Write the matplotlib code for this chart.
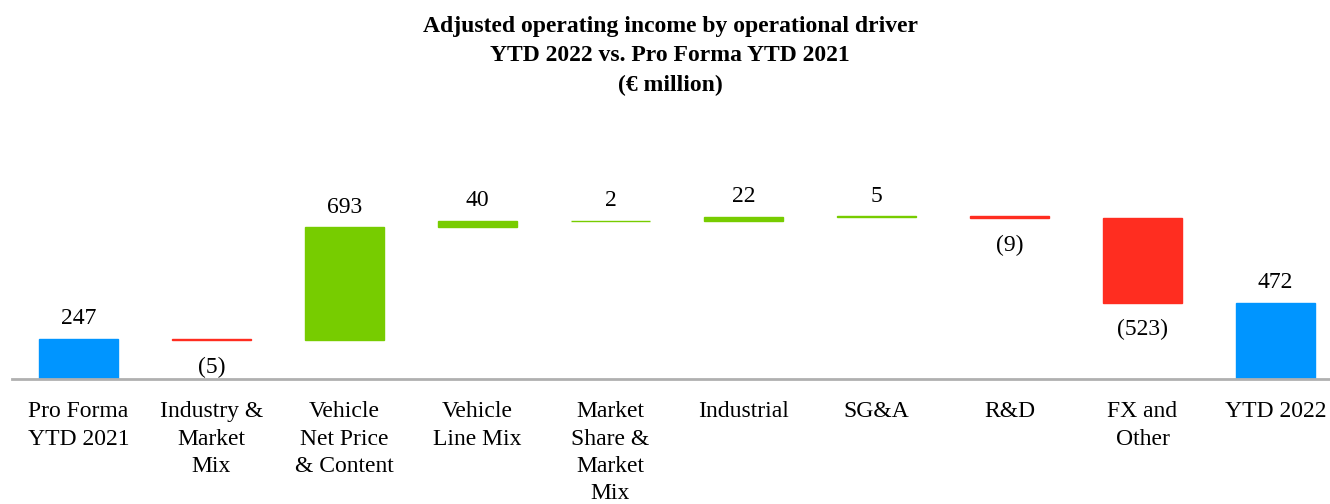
import matplotlib.pyplot as plt
import numpy as np

plt.rcParams['font.family'] = ['Liberation Serif', 'DejaVu Serif']

categories = ['Pro Forma\nYTD 2021', 'Industry &\nMarket\nMix', 'Vehicle\nNet Price\n& Content',
              'Vehicle\nLine Mix', 'Market\nShare &\nMarket\nMix', 'Industrial', 'SG&A', 'R&D',
              'FX and\nOther', 'YTD 2022']
values = [247, -5, 693, 40, 2, 22, 5, -9, -523, 472]
kinds = ['total', 'delta', 'delta', 'delta', 'delta', 'delta', 'delta', 'delta', 'delta', 'total']

blue = '#0095FF'
green = '#77CC00'
red = '#FF2D20'

fig = plt.figure(figsize=(13.3, 5.04), dpi=100)
ax = fig.add_axes([12 / 1330, 1 - 379 / 504, 1 - 12 / 1330, 229 / 504])

x = np.arange(len(values))
bottoms = []
heights = []
colors = []
running = 0
for v, k in zip(values, kinds):
    if k == 'total':
        bottoms.append(0)
        heights.append(v)
        colors.append(blue)
        running = v
    else:
        if v >= 0:
            bottoms.append(running)
            colors.append(green)
        else:
            bottoms.append(running + v)
            colors.append(red)
        heights.append(abs(v))
        running += v

ax.bar(x, heights, bottom=bottoms, width=0.6, color=colors, edgecolor=colors, linewidth=1.0)

for i, (v, b, h) in enumerate(zip(values, bottoms, heights)):
    if v >= 0:
        ax.annotate(str(v), (x[i], b + h), xytext=(0, 7), textcoords='offset points',
                    ha='center', va='bottom', fontsize=17)
    else:
        ax.annotate('(%d)' % abs(v), (x[i], b), xytext=(0, -12), textcoords='offset points',
                    ha='center', va='top', fontsize=17)

ax.set_xlim(-0.5, 9.41)
ax.set_ylim(0, 1413)
for s in ['top', 'right', 'left']:
    ax.spines[s].set_visible(False)
ax.spines['bottom'].set_color('#B0B0B0')
ax.spines['bottom'].set_linewidth(2)
ax.set_yticks([])
ax.set_xticks(x)
ax.set_xticklabels(categories, fontsize=17, linespacing=1.4)
ax.tick_params(axis='x', length=0, pad=16)

fig.text(0.504, 1 - 56 / 504, 'Adjusted operating income by operational driver\nYTD 2022 vs. Pro Forma YTD 2021\n(€ million)',
         ha='center', va='center', fontsize=17, fontweight='bold', linespacing=1.5)

fig.savefig('out.png', dpi=100)
